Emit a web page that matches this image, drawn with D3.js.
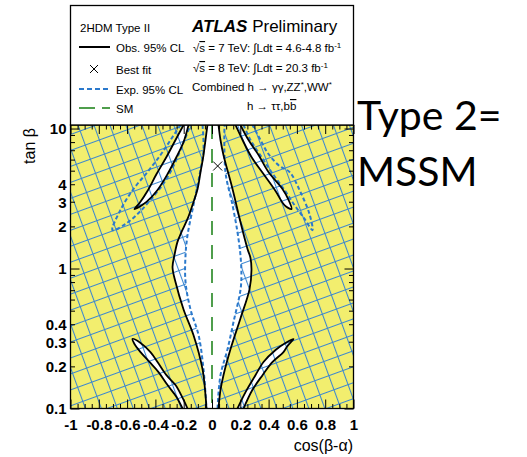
<!DOCTYPE html>
<html>
<head>
<meta charset="utf-8">
<script src="https://cdn.jsdelivr.net/npm/d3@7"></script>
<style>
  html, body { margin: 0; padding: 0; background: #fff; }
  svg { display: block; }
</style>
</head>
<body>
<svg id="chart" width="527" height="457"></svg>
<script>
// ---- axis ranges -------------------------------------------------------
const cosRange = [-1, 1];
const tanRange = [0.1, 10.6];

// ---- tick values and labels -------------------------------------------
const xTickValues = [-1, -0.8, -0.6, -0.4, -0.2, 0, 0.2, 0.4, 0.6, 0.8, 1];
const xTickLabels = ["-1", "-0.8", "-0.6", "-0.4", "-0.2", "0", "0.2", "0.4", "0.6", "0.8", "1"];
const yTickValues = [0.1, 0.2, 0.3, 0.4, 1, 2, 3, 4, 10];
const yTickLabels = ["0.1", "0.2", "0.3", "0.4", "1", "2", "3", "4", "10"];
const yMajorTicks = [0.1, 1, 10];
const yMinorTicks = [0.2, 0.3, 0.4, 0.5, 0.6, 0.7, 0.8, 0.9, 2, 3, 4, 5, 6, 7, 8, 9];

// ---- observed 95% CL allowed regions: [cos(beta-alpha), tan(beta)] ----
const obsCentralLeft = [
  [-0.032, 10.6], [-0.046, 8.28], [-0.06, 6.47], [-0.081, 4.89], [-0.102, 3.70],
  [-0.138, 2.84], [-0.173, 2.26], [-0.216, 1.82], [-0.244, 1.55], [-0.265, 1.25],
  [-0.279, 1.02], [-0.258, 0.80], [-0.201, 0.51], [-0.131, 0.335], [-0.067, 0.191],
  [-0.046, 0.125], [-0.039, 0.1]
];
const obsCentralRight = [
  [0.046, 0.1], [0.06, 0.136], [0.081, 0.173], [0.131, 0.266], [0.201, 0.44],
  [0.265, 0.71], [0.279, 0.976], [0.272, 1.19], [0.251, 1.38], [0.201, 2.15],
  [0.145, 3.70], [0.081, 6.47], [0.06, 8.28], [0.046, 10.6]
];
const obsUpperLeft = [
  [-0.201, 10.6], [-0.258, 8.28], [-0.322, 6.26], [-0.392, 4.73], [-0.456, 3.58],
  [-0.512, 2.94], [-0.548, 2.66], [-0.527, 2.71], [-0.463, 2.99], [-0.385, 3.64],
  [-0.314, 4.73], [-0.251, 6.26], [-0.201, 8.01], [-0.166, 10.6]
];
const obsUpperRight = [
  [0.166, 10.6], [0.216, 8.28], [0.279, 6.26], [0.364, 4.73], [0.449, 3.58],
  [0.512, 2.84], [0.562, 2.66], [0.541, 3.09], [0.498, 3.70], [0.399, 4.89],
  [0.329, 6.47], [0.258, 8.28], [0.201, 10.6]
];
const obsLowerLeft = [
  [-0.208, 0.1], [-0.251, 0.121], [-0.314, 0.147], [-0.378, 0.182], [-0.442, 0.215],
  [-0.505, 0.253], [-0.548, 0.289], [-0.562, 0.314], [-0.505, 0.294], [-0.435, 0.253],
  [-0.385, 0.215], [-0.322, 0.173], [-0.258, 0.147], [-0.208, 0.119], [-0.173, 0.1]
];
const obsLowerRight = [
  [0.18, 0.1], [0.237, 0.131], [0.307, 0.173], [0.364, 0.215], [0.449, 0.262],
  [0.519, 0.294], [0.576, 0.314], [0.534, 0.28], [0.505, 0.253], [0.428, 0.215],
  [0.357, 0.173], [0.286, 0.136], [0.223, 0.1]
];

// ---- expected 95% CL contours -----------------------------------------
const expCentralLeft = [
  [-0.067, 10.6], [-0.06, 7.02], [-0.088, 4.66], [-0.131, 2.84], [-0.173, 1.73],
  [-0.187, 1.25], [-0.187, 0.80], [-0.152, 0.51], [-0.095, 0.335], [-0.06, 0.191],
  [-0.039, 0.1]
];
const expCentralRight = [
  [0.039, 0.1], [0.06, 0.173], [0.11, 0.266], [0.152, 0.415], [0.201, 0.70],
  [0.208, 0.90], [0.201, 1.25], [0.18, 1.82], [0.145, 2.84], [0.095, 4.89],
  [0.088, 10.6]
];
const expUpperLeft = [
  [-0.223, 10.6], [-0.293, 8.28], [-0.364, 6.47], [-0.456, 4.89], [-0.555, 3.70],
  [-0.647, 2.62], [-0.703, 1.88], [-0.611, 2.08], [-0.519, 2.49], [-0.435, 3.09],
  [-0.35, 3.95], [-0.279, 5.22], [-0.223, 7.02], [-0.152, 10.6]
];
const expUpperRight = [
  [0.223, 10.6], [0.272, 8.28], [0.35, 6.26], [0.42, 4.89], [0.512, 3.64],
  [0.583, 2.84], [0.654, 2.26], [0.71, 1.88], [0.689, 2.45], [0.625, 3.52],
  [0.548, 4.89], [0.477, 5.40], [0.399, 6.58], [0.343, 8.28], [0.286, 10.6]
];

// ---- best fit point and SM line ---------------------------------------
const bestFit = [0.04, 5.4];
const smCos = 0;

// ---- legend -----------------------------------------------------------
const legendLabels = ["Obs. 95% CL", "Best fit", "Exp. 95% CL", "SM"];

// ---- colours ----------------------------------------------------------
const colYellow = "#f2ee6e";
const colBlue = "#2b79cc";
const colHatch = "#3a86d0";
const colGreen = "#4f9e4c";
const FONT = "'Liberation Sans', Arial, Helvetica, sans-serif";

const svg = d3.select("#chart");
const x = d3.scaleLinear().domain(cosRange).range([70.5, 353.5]);
const y = d3.scaleLog().domain(tanRange).range([408.5, 125]);
const [x0, x1] = x.range();
const [y0, y1] = [y.range()[1], y.range()[0]];

const line = d3.line().x(d => x(d[0])).y(d => y(d[1])).curve(d3.curveCatmullRom.alpha(0.5));
const joined = (a, b) => line(a) + line(b).replace(/^M/, "L") + "Z";

const defs = svg.append("defs");
defs.append("clipPath").attr("id", "plotArea")
  .append("rect").attr("x", x0).attr("y", y0).attr("width", x1 - x0).attr("height", y1 - y0);

// crossed hatching outside the central expected band
const pat = defs.append("pattern").attr("id", "hatch")
  .attr("patternUnits", "userSpaceOnUse").attr("width", 15).attr("height", 15)
  .attr("patternTransform", "rotate(-20)");
pat.append("path").attr("d", "M0,0.5H15M0.5,0V15")
  .attr("stroke", colHatch).attr("stroke-width", 1.1).attr("fill", "none");

defs.append("clipPath").attr("id", "expExcluded")
  .append("path").attr("clip-rule", "evenodd")
  .attr("d", "M0,0H527V457H0Z" + joined(expCentralLeft, expCentralRight));

const plot = svg.append("g").attr("clip-path", "url(#plotArea)");

// observed exclusion (yellow) with observed allowed regions in white
plot.append("rect").attr("x", x0).attr("y", y0).attr("width", x1 - x0).attr("height", y1 - y0)
  .attr("fill", colYellow);
const obsAllowed = [
  joined(obsCentralLeft, obsCentralRight),
  line(obsUpperLeft) + "Z", line(obsUpperRight) + "Z",
  line(obsLowerLeft) + "Z", line(obsLowerRight) + "Z"
];
plot.selectAll("path.obsfill").data(obsAllowed).join("path")
  .attr("class", "obsfill").attr("d", d => d).attr("fill", "#fff");

plot.append("rect").attr("x", x0).attr("y", y0).attr("width", x1 - x0).attr("height", y1 - y0)
  .attr("fill", "url(#hatch)").attr("clip-path", "url(#expExcluded)");

// expected contours
plot.selectAll("path.exp")
  .data([expCentralLeft, expCentralRight, expUpperLeft, expUpperRight]).join("path")
  .attr("class", "exp").attr("d", line).attr("fill", "none")
  .attr("stroke", colBlue).attr("stroke-width", 2).attr("stroke-dasharray", "4,2.5");

// observed contours
plot.selectAll("path.obs")
  .data([obsCentralLeft, obsCentralRight, obsUpperLeft, obsUpperRight, obsLowerLeft, obsLowerRight]).join("path")
  .attr("class", "obs").attr("d", line).attr("fill", "none")
  .attr("stroke", "#000").attr("stroke-width", 1.8);

// SM expectation
plot.append("line").attr("x1", x(smCos)).attr("x2", x(smCos)).attr("y1", y0).attr("y2", y1)
  .attr("stroke", colGreen).attr("stroke-width", 2).attr("stroke-dasharray", "14,10");

// best fit marker
const bx = x(bestFit[0]), by = y(bestFit[1]);
plot.append("path").attr("d", `M${bx - 4.5},${by - 4.5}L${bx + 4.5},${by + 4.5}M${bx - 4.5},${by + 4.5}L${bx + 4.5},${by - 4.5}`)
  .attr("stroke", "#000").attr("stroke-width", 1).attr("fill", "none");

// ---- axes -------------------------------------------------------------
const xMinor = d3.range(-1, 1.0001, 0.05).filter(v => Math.abs(Math.round(v * 5) - v * 5) > 1e-6);
function styleAxis(g) {
  g.select(".domain").remove();
  g.attr("color", "#000");
  g.selectAll("line").attr("stroke-width", 1);
}
function tickAxis(gen, values, size, transform) {
  svg.append("g").attr("transform", transform)
    .call(gen.tickValues(values).tickSize(-size).tickFormat(""))
    .call(styleAxis);
}
tickAxis(d3.axisBottom(x), xMinor, 4.5, `translate(0,${y1})`);
tickAxis(d3.axisTop(x), xMinor, 4.5, `translate(0,${y0})`);
tickAxis(d3.axisTop(x), xTickValues, 9, `translate(0,${y0})`);
tickAxis(d3.axisLeft(y), yMinorTicks, 4.5, `translate(${x0},0)`);
tickAxis(d3.axisLeft(y), yMajorTicks, 9, `translate(${x0},0)`);
tickAxis(d3.axisRight(y), yMinorTicks, 4.5, `translate(${x1},0)`);
tickAxis(d3.axisRight(y), yMajorTicks, 9, `translate(${x1},0)`);

const xAxis = svg.append("g").attr("transform", `translate(0,${y1})`)
  .call(d3.axisBottom(x).tickValues(xTickValues).tickSize(-9).tickPadding(11)
    .tickFormat((d, i) => xTickLabels[i]))
  .call(styleAxis);
xAxis.attr("font-family", FONT).attr("font-size", 15).attr("font-weight", "bold");
xAxis.selectAll("text").attr("fill", "#000");

const yAxis = svg.append("g").attr("transform", `translate(${x0},0)`)
  .call(d3.axisLeft(y).tickValues(yTickValues).tickSize(0).tickPadding(4)
    .tickFormat((d, i) => yTickLabels[i]))
  .call(styleAxis);
yAxis.attr("font-family", FONT).attr("font-size", 15).attr("font-weight", "bold");
yAxis.selectAll("text").attr("fill", "#000").attr("dy", "0.36em");

// axis titles
svg.append("text").attr("x", 353).attr("y", 451).attr("text-anchor", "end")
  .attr("font-family", FONT).attr("font-size", 16).text("cos(β-α)");
svg.append("text").attr("transform", "translate(35,128) rotate(-90)").attr("text-anchor", "end")
  .attr("font-family", FONT).attr("font-size", 16).text("tan β");

// frame of the plot and the legend box
svg.append("rect").attr("x", x0).attr("y", y0).attr("width", x1 - x0).attr("height", y1 - y0)
  .attr("fill", "none").attr("stroke", "#000").attr("stroke-width", 1.3);
svg.append("rect").attr("x", x0).attr("y", 5.5).attr("width", x1 - x0).attr("height", y0 - 5.5)
  .attr("fill", "#fff").attr("stroke", "#000").attr("stroke-width", 1.3);

// ---- legend -----------------------------------------------------------
const leg = svg.append("g").attr("font-family", FONT).attr("font-size", 11.5).attr("fill", "#000");
leg.append("text").attr("x", 80).attr("y", 32).text("2HDM Type II");
const rows = [47, 69, 89, 108];
leg.append("line").attr("x1", 79).attr("x2", 110).attr("y1", rows[0]).attr("y2", rows[0])
  .attr("stroke", "#000").attr("stroke-width", 2);
leg.append("path").attr("d", `M90,${rows[1] - 4}L98,${rows[1] + 4}M90,${rows[1] + 4}L98,${rows[1] - 4}`)
  .attr("stroke", "#000").attr("stroke-width", 1);
leg.append("line").attr("x1", 79).attr("x2", 110).attr("y1", rows[2]).attr("y2", rows[2])
  .attr("stroke", colBlue).attr("stroke-width", 2).attr("stroke-dasharray", "5,3");
leg.append("line").attr("x1", 79).attr("x2", 110).attr("y1", rows[3]).attr("y2", rows[3])
  .attr("stroke", colGreen).attr("stroke-width", 2).attr("stroke-dasharray", "16,7");
legendLabels.forEach((t, i) => {
  leg.append("text").attr("x", 116).attr("y", rows[i] + 5).text(t);
});

const atlas = leg.append("text").attr("x", 192).attr("y", 32).attr("font-size", 17);
atlas.append("tspan").attr("font-weight", "bold").attr("font-style", "italic").text("ATLAS");
atlas.append("tspan").text(" Preliminary");

function lumiLine(yPos, energy, lumi) {
  const t = leg.append("text").attr("x", 193).attr("y", yPos);
  t.append("tspan").text("√");
  t.append("tspan").attr("text-decoration", "overline").text("s");
  t.append("tspan").text(` = ${energy} TeV: ∫Ldt = ${lumi} fb`);
  t.append("tspan").attr("dy", -4.5).attr("font-size", 8).text("-1");
}
lumiLine(52, 7, "4.6-4.8");
lumiLine(72, 8, "20.3");

const comb = leg.append("text").attr("x", 192).attr("y", 91);
comb.append("tspan").text("Combined h → γγ,ZZ");
comb.append("tspan").attr("dy", -4).attr("font-size", 8).text("*");
comb.append("tspan").attr("dy", 4).text(",WW");
comb.append("tspan").attr("dy", -4).attr("font-size", 8).text("*");

const ferm = leg.append("text").attr("x", 247).attr("y", 110);
ferm.append("tspan").text("h → ττ,b");
ferm.append("tspan").attr("text-decoration", "overline").text("b");

// ---- side note --------------------------------------------------------
const note = svg.append("g").attr("font-family", "Lato, 'Open Sans', sans-serif").attr("font-size", 41).attr("fill", "#000");
note.append("text").attr("x", 357).attr("y", 130).text("Type 2=");
note.append("text").attr("x", 357).attr("y", 186).text("MSSM");
</script>
</body>
</html>
